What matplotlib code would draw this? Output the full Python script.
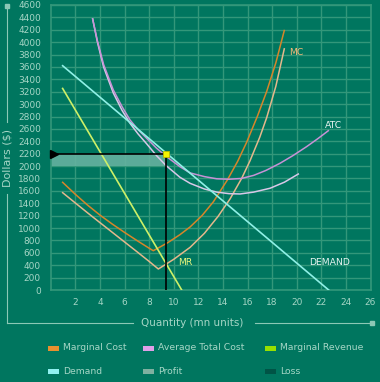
import matplotlib
matplotlib.use("Agg")
import matplotlib.pyplot as plt
from matplotlib.lines import Line2D
from matplotlib.patches import Rectangle

# ---------------- data ----------------
demand_q = [0.97, 22.6]
demand_p = [3620, 0]

mr_q = [0.97, 10.65]
mr_p = [3253, 0]

mc_q = [0.97, 2, 3, 4, 5, 6, 7, 8, 8.34, 9.5, 10.5, 11.33, 12.3, 13.22,
        14.36, 15.2, 15.93, 16.8, 17.56, 18.3, 18.99]
mc_p = [1738, 1545, 1370, 1210, 1065, 930, 800, 675, 634, 762, 892, 1017,
        1201, 1422, 1775, 2077, 2384, 2802, 3205, 3664, 4188]

mc0_q = [0.97, 2, 3, 4, 5, 6, 7, 8, 8.75, 10, 11.33, 12.5, 13.6, 14.58,
         15.53, 16.2, 17, 17.56, 18.3, 18.99]
mc0_p = [1571, 1405, 1245, 1088, 932, 776, 620, 462, 339, 495, 688, 916,
         1186, 1470, 1803, 2084, 2468, 2782, 3285, 3892]

atc_q = [3.41, 3.8, 4.3, 5.09, 5.8, 6.45, 7.1, 7.8, 8.6, 9.37, 10.51, 11.33,
         12.5, 13.5, 14.5, 15.5, 16.5, 17.5, 18.64, 19.7, 20.8, 21.7, 22.57]
atc_p = [4375, 4020, 3640, 3228, 2960, 2744, 2590, 2449, 2290, 2160, 1990,
         1890, 1830, 1795, 1788, 1800, 1850, 1930, 2045, 2170, 2313, 2440, 2571]

atc0_q = [3.41, 3.8, 4.3, 5.09, 5.8, 6.45, 7.1, 7.8, 8.6, 9.37, 10.51, 11.33,
          12.5, 13.5, 14.5, 15.4, 16.5, 17.83, 19.0, 20.13]
atc0_p = [4375, 4000, 3600, 3180, 2900, 2690, 2520, 2360, 2170, 2010, 1819,
          1722, 1630, 1580, 1555, 1550, 1580, 1642, 1740, 1872]

opt_q = 9.37
price = 2200
avg_cost = 2000

x_ticks = list(range(2, 27, 2))
y_ticks = list(range(0, 4601, 200))

legend_items = [("Marginal Cost", "#e8902e"), ("Average Total Cost", "#e0a0e8"),
                ("Marginal Revenue", "#98e000"), ("Demand", "#90f0f0"),
                ("Profit", "#7fb0a0"), ("Loss", "#005446")]

# ---------------- style ----------------
BG = "#00765f"
GRID = "#33977a"
TXT = "#a6d6c6"
W, H = 380, 382

fig = plt.figure(figsize=(W / 100, H / 100), dpi=100, facecolor=BG)
ax = fig.add_axes([50.7 / W, 1 - 290 / H, (370.5 - 50.7) / W, (290 - 5) / H])
ax.set_facecolor(BG)
ax.set_xlim(0, 26)
ax.set_ylim(0, 4600)
ax.set_xticks(x_ticks)
ax.set_yticks(y_ticks)
ax.set_xticklabels([str(v) for v in x_ticks])
ax.set_yticklabels([str(v) for v in y_ticks])
ax.tick_params(axis="both", length=0, colors=TXT, labelsize=6.5)
ax.tick_params(axis="x", pad=6)
ax.tick_params(axis="y", pad=7)
ax.grid(True, color=GRID, linewidth=1)
ax.set_axisbelow(True)
for s in ax.spines.values():
    s.set_color(GRID)
    s.set_linewidth(1.2)

# profit rectangle
ax.add_patch(Rectangle((0, avg_cost), opt_q, price - avg_cost,
                       facecolor="#66b2a0", edgecolor="none", alpha=0.9, zorder=2))

# curves
ax.plot(mc0_q, mc0_p, color="#e4b88c", lw=1.1, zorder=3)
ax.plot(mc_q, mc_p, color="#d6862a", lw=1.1, zorder=3)
ax.plot(atc0_q, atc0_p, color="#d8c8e8", lw=1.1, zorder=3)
ax.plot(atc_q, atc_p, color="#c792d6", lw=1.1, zorder=3)
ax.plot(mr_q, mr_p, color="#cdf068", lw=1.2, zorder=3)
ax.plot(demand_q, demand_p, color="#8ff0e6", lw=1.2, zorder=3)

# optimum lines
ax.plot([0, opt_q], [price, price], color="black", lw=1.2, zorder=4)
ax.plot([opt_q, opt_q], [0, price], color="black", lw=1.2, zorder=4)
ax.plot([0.25], [price], marker=">", color="black", markersize=6, clip_on=False, zorder=5)
ax.plot([opt_q], [price], marker="s", color="#f4f400", mec="#b8b800", mew=0.6,
        markersize=4.5, zorder=6)

# curve labels
ax.text(19.4, 3826, "MC", color="#f4b878", fontsize=6.7, va="center", ha="left")
ax.text(22.3, 2663, "ATC", color="#e8f4f0", fontsize=6.7, va="center", ha="left")
ax.text(10.35, 436, "MR", color="#e8f47c", fontsize=6.7, va="center", ha="left")
ax.text(21.0, 436, "DEMAND", color="#e8f4f0", fontsize=6.7, va="center", ha="left")


def fx(x):
    return x / W


def fy(y):
    return 1 - y / H


# axis decorations (frame lines with labels)
lc = "#8cc8b6"
fig.add_artist(Line2D([fx(7), fx(7)], [fy(6), fy(122)], color=lc, lw=0.8))
fig.add_artist(Line2D([fx(7), fx(7)], [fy(194), fy(323)], color=lc, lw=0.8))
fig.add_artist(Line2D([fx(7), fx(133)], [fy(323), fy(323)], color=lc, lw=0.8))
fig.add_artist(Line2D([fx(255), fx(372)], [fy(323), fy(323)], color=lc, lw=0.8))
fig.add_artist(Line2D([fx(7)], [fy(6)], marker="s", markersize=2.5, color=lc))
fig.add_artist(Line2D([fx(372)], [fy(323)], marker="s", markersize=2.5, color=lc))
fig.text(fx(8), fy(158), "Dollars ($)", rotation=90, color=TXT, fontsize=8,
         ha="center", va="center")
fig.text(fx(192.5), fy(323), "Quantity (mn units)", color=TXT, fontsize=7.5,
         ha="center", va="center")

# legend
cols = [48, 143, 265]
rows = [348, 371]
for i, (label, col) in enumerate(legend_items):
    x0 = cols[i % 3]
    y0 = rows[i // 3]
    fig.add_artist(Rectangle((fx(x0), fy(y0 + 2.5)), 11 / W, 5 / H,
                             facecolor=col, edgecolor="none"))
    fig.text(fx(x0 + 15), fy(y0), label, color=TXT, fontsize=6.7,
             ha="left", va="center")

fig.savefig("out.png", dpi=100, facecolor=BG)
